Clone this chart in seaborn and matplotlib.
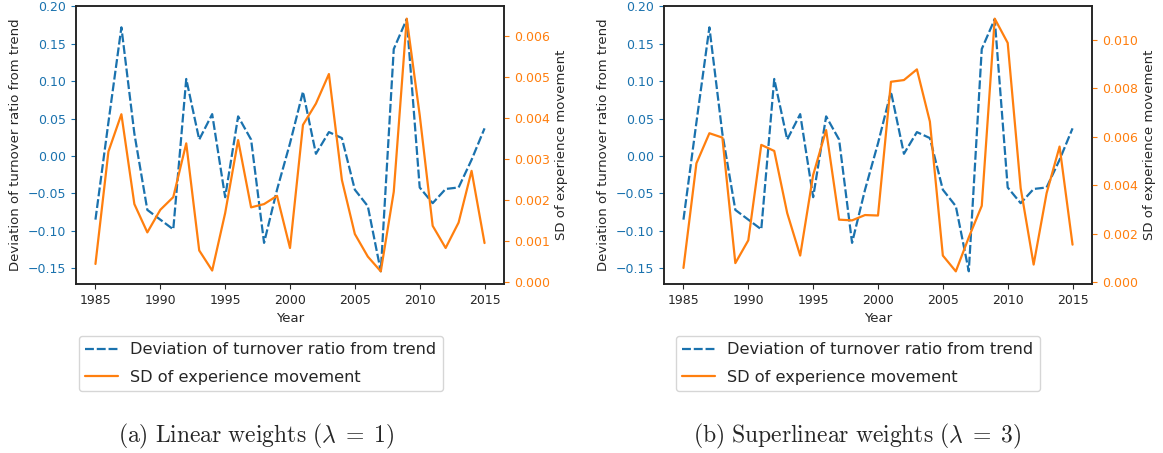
import matplotlib
matplotlib.use("Agg")
import matplotlib.pyplot as plt
import seaborn as sns
import pandas as pd

sns.set_style("ticks")
plt.rcParams['font.family'] = ['DejaVu Sans']
plt.rcParams['mathtext.fontset'] = 'cm'

# data
years = list(range(1985, 2016))

deviation = [-0.085, 0.045, 0.172, 0.030, -0.072, -0.085, -0.098, 0.103, 0.022, 0.056,
             -0.055, 0.053, 0.022, -0.116, -0.045, 0.017, 0.086, 0.003, 0.032, 0.024,
             -0.045, -0.067, -0.154, 0.143, 0.183, -0.042, -0.063, -0.044, -0.042, -0.005,
             0.037]

sd_linear = [0.00045, 0.00319, 0.00410, 0.00191, 0.00122, 0.00177, 0.00208, 0.00339, 0.00078, 0.00029,
             0.00169, 0.00347, 0.00183, 0.00191, 0.00211, 0.00084, 0.00384, 0.00436, 0.00508, 0.00250,
             0.00118, 0.00063, 0.00027, 0.00221, 0.00643, 0.00408, 0.00138, 0.00084, 0.00146, 0.00272,
             0.00096]

sd_super = [0.00059, 0.00490, 0.00614, 0.00596, 0.00079, 0.00173, 0.00566, 0.00541, 0.00285, 0.00110,
            0.00442, 0.00627, 0.00258, 0.00255, 0.00277, 0.00275, 0.00826, 0.00833, 0.00877, 0.00662,
            0.00110, 0.00045, 0.00185, 0.00315, 0.01086, 0.00986, 0.00388, 0.00073, 0.00367, 0.00559,
            0.00155]

captions = [r"$\mathrm{(a)\ Linear\ weights\ }(\lambda\;=\;1)$",
            r"$\mathrm{(b)\ Superlinear\ weights\ }(\lambda\;=\;3)$"]

blue = '#1a72ae'
orange = '#ff7f0e'

W, H = 1163, 453
fig = plt.figure(figsize=(W / 100, H / 100), dpi=100)

panels = [
    (sd_linear, 76, 504, 261, 256),
    (sd_super, 664, 1092, 858, 857),
]

for i, (sd, x0, x1, leg_x, cap_x) in enumerate(panels):
    ax = fig.add_axes([x0 / W, 1 - 284 / H, (x1 - x0) / W, (284 - 6) / H])
    df = pd.DataFrame({'Year': years, 'dev': deviation, 'sd': sd})

    sns.lineplot(data=df, x='Year', y='dev', ax=ax, color=blue, dashes=False,
                 linewidth=1.6, label='Deviation of turnover ratio from trend', legend=False)
    ax.lines[0].set_dashes((4.0, 1.3))
    ax.set_ylim(-0.171, 0.2005)
    ax.set_xlabel('Year', fontsize=9.5)
    ax.set_ylabel('Deviation of turnover ratio from trend', fontsize=9.5)
    ax.tick_params(axis='y', colors=blue, labelsize=9)
    ax.tick_params(axis='x', labelsize=9)
    ax.set_xticks([1985, 1990, 1995, 2000, 2005, 2010, 2015])

    ax2 = ax.twinx()
    sns.lineplot(data=df, x='Year', y='sd', ax=ax2, color=orange,
                 linewidth=1.6, label='SD of experience movement', legend=False)
    ax2.set_ylabel('SD of experience movement', fontsize=9.5)
    ax2.tick_params(axis='y', colors=orange, labelsize=9)
    ax2.yaxis.set_major_formatter(matplotlib.ticker.FormatStrFormatter('%.3f'))

    for a in (ax, ax2):
        for s in a.spines.values():
            s.set_color('#222222')
            s.set_linewidth(1.1)

    h1, l1 = ax.get_legend_handles_labels()
    h2, l2 = ax2.get_legend_handles_labels()
    fig.legend(h1 + h2, l1 + l2, loc='center', bbox_to_anchor=(leg_x / W, 1 - 363.5 / H),
               fontsize=11.6, frameon=True, handlelength=2.0, labelspacing=0.75)

    fig.text(cap_x / W, 1 - 436 / H, captions[i], ha='center', va='center', fontsize=17.0)

fig.savefig('out.png', dpi=100)
